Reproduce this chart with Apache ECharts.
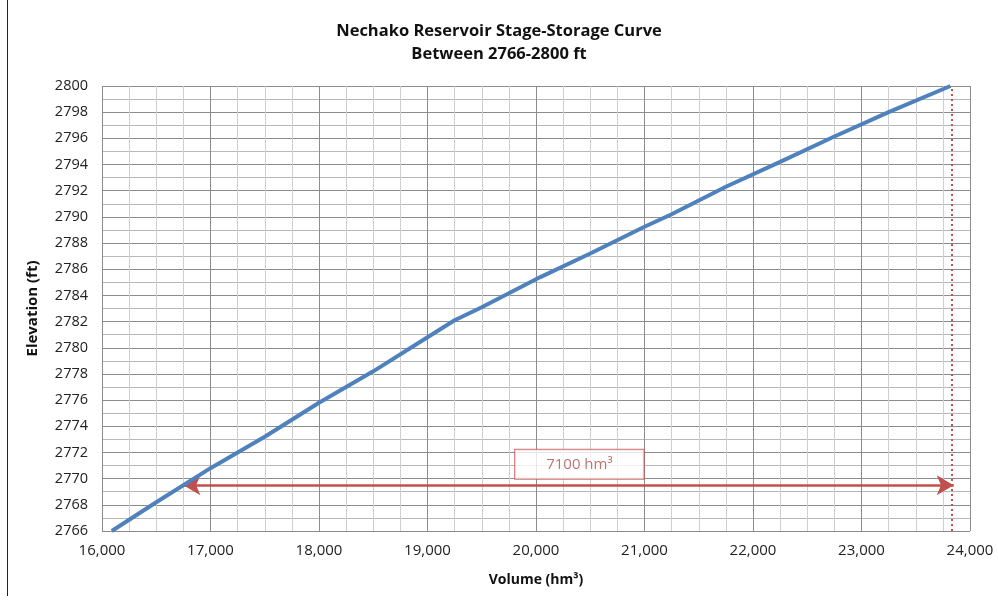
<!DOCTYPE html>
<html>
<head>
<meta charset="utf-8">
<script src="https://cdn.jsdelivr.net/npm/echarts@6/dist/echarts.min.js"></script>
<style>html,body{margin:0;padding:0;background:#fff;}#c{width:998px;height:603px;}</style>
</head>
<body>
<div id="c"></div>
<script>
var volumes = [16090, 16500, 17000, 17500, 18000, 18500, 19000, 19250, 19500, 20040, 20500, 21000, 21250, 21750, 22250, 22740, 23250, 23820];
var elevations = [2766, 2768.2, 2770.8, 2773.2, 2775.8, 2778.2, 2780.8, 2782.1, 2783.1, 2785.4, 2787.2, 2789.25, 2790.2, 2792.3, 2794.2, 2796.1, 2798.0, 2800];
var arrowStart = [16750, 2769.5];
var arrowEnd = [23850, 2769.5];
var dottedX = 23830;
var labelPos = [20400, 2771.1];
var labelText = '7100 hm³';
var titleLines = 'Nechako Reservoir Stage-Storage Curve\nBetween 2766-2800 ft';

var curve = volumes.map(function (v, i) { return [v, elevations[i]]; });
var fontFam = '"Open Sans", "Noto Sans", sans-serif';
var red = '#c0504d';

var chart = echarts.init(document.getElementById('c'));
chart.setOption({
  animation: false,
  backgroundColor: '#fff',
  title: {
    text: titleLines,
    left: 'center',
    top: 15,
    textStyle: { fontFamily: fontFam, fontSize: 16.5, fontWeight: 'bold', color: '#111', lineHeight: 23 }
  },
  grid: { left: 102, right: 28, top: 86, bottom: 72, show: false },
  xAxis: {
    type: 'value', min: 16000, max: 24000, interval: 1000,
    name: 'Volume (hm³)', nameLocation: 'middle', nameGap: 42,
    nameTextStyle: { fontFamily: fontFam, fontSize: 14, fontWeight: 'bold', color: '#111' },
    axisLine: { show: false }, axisTick: { show: false },
    axisLabel: { fontFamily: fontFam, fontSize: 15, color: '#222', margin: 12,
      formatter: function (v) { return v.toLocaleString('en-US'); } },
    splitLine: { show: true, lineStyle: { color: '#8c8c8c', width: 1 } },
    minorTick: { show: false, splitNumber: 4 },
    minorSplitLine: { show: true, lineStyle: { color: '#cfcfcf', width: 1 } }
  },
  yAxis: {
    type: 'value', min: 2766, max: 2800, interval: 2,
    name: 'Elevation (ft)', nameLocation: 'middle', nameGap: 62,
    nameTextStyle: { fontFamily: fontFam, fontSize: 15, fontWeight: 'bold', color: '#111' },
    axisLine: { show: false }, axisTick: { show: false },
    axisLabel: { fontFamily: fontFam, fontSize: 14.5, color: '#222', margin: 14,
      formatter: function (v) { return String(v); } },
    splitLine: { show: true, lineStyle: { color: '#8c8c8c', width: 1 } },
    minorTick: { show: false, splitNumber: 2 },
    minorSplitLine: { show: true, lineStyle: { color: '#b8b8b8', width: 1 } }
  },
  series: [
    {
      type: 'line', data: curve, showSymbol: false, symbol: 'none',
      lineStyle: { color: '#4f81bd', width: 4 }, z: 5,
      markLine: {
        silent: true, animation: false,
        label: { show: false },
        symbol: ['arrow', 'arrow'],
        symbolSize: [15, 17],
        lineStyle: { color: red, width: 2.5, type: 'solid' },
        data: [
          [ { coord: arrowStart }, { coord: arrowEnd } ]
        ]
      }
    },
    {
      type: 'line', data: [], silent: true,
      markLine: {
        silent: true, animation: false,
        label: { show: false },
        symbol: ['none', 'none'],
        lineStyle: { color: red, width: 2, type: [2, 3] },
        data: [ { xAxis: dottedX } ]
      }
    },
    {
      type: 'scatter', data: [labelPos], symbolSize: 0, z: 10, silent: true,
      label: {
        show: true, position: 'inside', formatter: labelText,
        fontFamily: fontFam, fontSize: 15, color: '#b0504d',
        backgroundColor: '#fff', borderColor: '#c0504d', borderWidth: 1,
        padding: [7, 31, 7, 31]
      }
    }
  ],
  graphic: [
    { type: 'line', shape: { x1: 7.5, y1: 0, x2: 7.5, y2: 596 }, style: { stroke: '#222', lineWidth: 1 } }
  ]
});
</script>
</body>
</html>
